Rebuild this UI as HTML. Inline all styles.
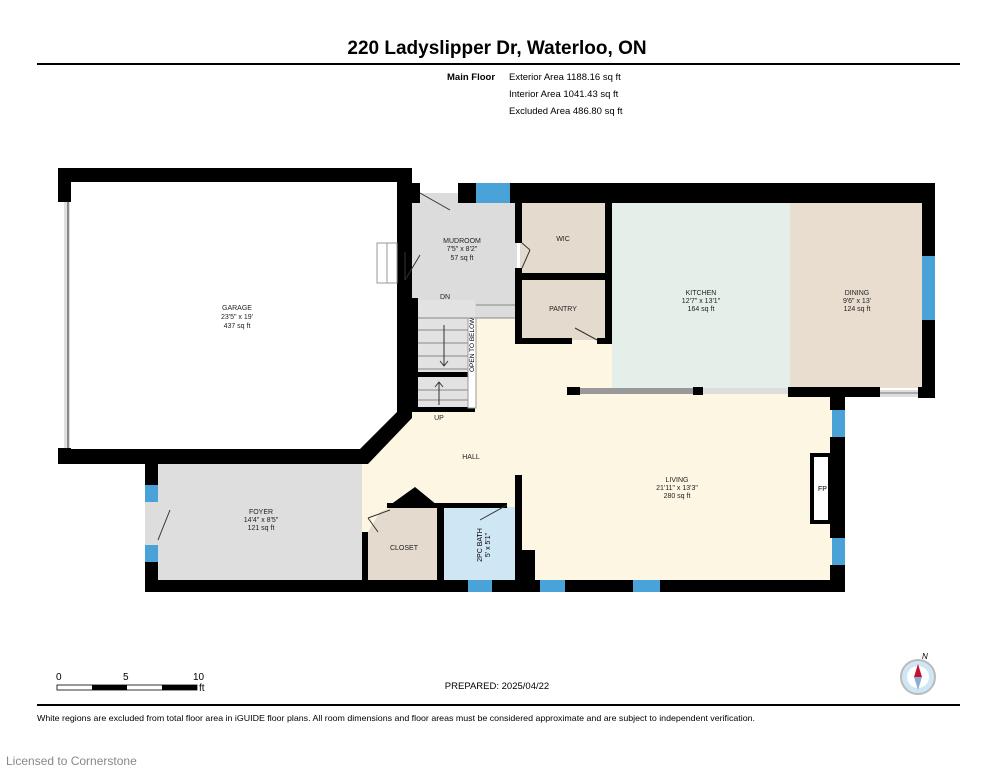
<!DOCTYPE html>
<html><head><meta charset="utf-8"><style>
html,body{margin:0;padding:0;background:#fff;width:995px;height:768px;overflow:hidden}
svg{display:block}
text{font-family:"Liberation Sans",Arial,sans-serif}
</style></head><body>
<svg width="995" height="768" viewBox="0 0 995 768" xmlns="http://www.w3.org/2000/svg">
<text x="497" y="54" text-anchor="middle" font-size="19" font-weight="bold">220 Ladyslipper Dr, Waterloo, ON</text>
<rect x="37" y="63" width="923" height="2" fill="#000"/>
<text x="447" y="80" font-size="9.5" font-weight="bold">Main Floor</text>
<text x="509" y="80" font-size="9.5">Exterior Area 1188.16 sq ft</text>
<text x="509" y="97" font-size="9.5">Interior Area 1041.43 sq ft</text>
<text x="509" y="114" font-size="9.5">Excluded Area 486.80 sq ft</text>

<rect x="412" y="193" width="105" height="125" fill="#dcdcdc"/>
<rect x="520" y="203" width="87" height="72" fill="#e4dacd"/>
<rect x="520" y="280" width="87" height="60" fill="#e4dacd"/>
<rect x="612" y="203" width="180" height="185" fill="#e3efe8"/>
<rect x="790" y="203" width="134" height="185" fill="#e8ddcf"/>
<polygon points="412,420 362,462 362,580 832,580 832,392 612,392 612,340 515,340 515,318 475,318 475,410 412,410" fill="#fdf6e3"/>
<rect x="412" y="300" width="63" height="108" fill="#e2e2e2"/>
<rect x="158" y="462" width="204" height="118" fill="#dedede"/>
<polygon points="368,532 380,512 398,505 437,505 437,580 368,580" fill="#e4dacd"/>
<rect x="444" y="507" width="71" height="73" fill="#cfe6f5"/>
<rect x="64" y="202" width="6" height="246" fill="#e0e0e0"/>
<line x1="68" y1="202" x2="68" y2="448" stroke="#333" stroke-width="1"/>

<g fill="#000">
<rect x="58" y="168" width="354" height="14"/>
<rect x="58" y="168" width="13" height="34"/>
<rect x="58" y="448" width="13" height="16"/>
<rect x="58" y="449" width="304" height="15"/>
<polygon points="360,449 397,412 397,168 412,168 412,418 368,464 360,464"/>
<rect x="400" y="183" width="20" height="20"/>
<rect x="458" y="183" width="18" height="20"/>
<rect x="510" y="183" width="425" height="20"/>
<rect x="922" y="183" width="13" height="73"/>
<rect x="922" y="320" width="13" height="78"/>
<rect x="515" y="203" width="7" height="40"/>
<rect x="515" y="268" width="7" height="76"/>
<rect x="515" y="273" width="97" height="7"/>
<rect x="605" y="203" width="7" height="141"/>
<rect x="515" y="338" width="57" height="6"/>
<rect x="597" y="338" width="15" height="6"/>
<rect x="567" y="387" width="13" height="8"/>
<rect x="693" y="387" width="10" height="8"/>
<rect x="788" y="387" width="92" height="10"/>
<rect x="918" y="387" width="17" height="11"/>
<rect x="830" y="395" width="15" height="15"/>
<rect x="830" y="437" width="15" height="101"/>
<rect x="830" y="565" width="15" height="27"/>
<rect x="145" y="580" width="323" height="12"/>
<rect x="492" y="580" width="48" height="12"/>
<rect x="565" y="580" width="68" height="12"/>
<rect x="660" y="580" width="185" height="12"/>
<rect x="145" y="462" width="13" height="23"/>
<rect x="145" y="562" width="13" height="30"/>
<rect x="362" y="532" width="6" height="48"/>
<polygon points="390,505 415,487 437,505"/>
<rect x="387" y="503" width="120" height="5"/>
<rect x="437" y="503" width="7" height="77"/>
<rect x="515" y="475" width="7" height="105"/>
<rect x="522" y="550" width="13" height="30"/>
<rect x="412" y="407" width="63" height="5"/>
<rect x="412" y="298" width="6" height="112"/>
<rect x="397" y="283" width="15" height="15"/>
</g>
<rect x="580" y="388" width="113" height="6" fill="#999"/>
<rect x="703" y="388" width="85" height="6" fill="#ddd"/>
<rect x="880" y="390" width="38" height="7" fill="#ddd"/>
<line x1="880" y1="393" x2="918" y2="393" stroke="#555" stroke-width="0.8"/>
<rect x="812" y="455" width="18" height="67" fill="#fff" stroke="#000" stroke-width="4"/>
<text x="818" y="491" font-size="7">FP</text>
<g fill="#4aa3d8">
<rect x="476" y="183" width="34" height="20"/>
<rect x="922" y="256" width="13" height="64"/>
<rect x="832" y="410" width="13" height="27"/>
<rect x="832" y="538" width="13" height="27"/>
<rect x="468" y="580" width="24" height="12"/>
<rect x="540" y="580" width="25" height="12"/>
<rect x="633" y="580" width="27" height="12"/>
<rect x="145" y="485" width="13" height="17"/>
<rect x="145" y="545" width="13" height="17"/>
</g>
<rect x="145" y="502" width="13" height="43" fill="#ddd"/>
<g stroke="#333" stroke-width="1" fill="none">
<line x1="420" y1="193" x2="450" y2="210"/>
<line x1="405" y1="252" x2="405" y2="280"/><line x1="405" y1="280" x2="420" y2="255"/>
<line x1="522" y1="243" x2="530" y2="250"/><line x1="530" y1="250" x2="522" y2="268"/>
<line x1="575" y1="328" x2="597" y2="340"/>
<line x1="158" y1="540" x2="170" y2="510"/>
<line x1="368" y1="518" x2="390" y2="510"/><line x1="368" y1="518" x2="378" y2="532"/>
<line x1="480" y1="520" x2="507" y2="505"/>
</g>
<rect x="377" y="243" width="20" height="40" fill="#fff" stroke="#999"/>
<line x1="387" y1="243" x2="387" y2="283" stroke="#999"/>
<g stroke="#888" stroke-width="1">
<line x1="418" y1="318" x2="468" y2="318"/><line x1="418" y1="330" x2="468" y2="330"/>
<line x1="418" y1="343" x2="468" y2="343"/><line x1="418" y1="356" x2="468" y2="356"/>
<line x1="418" y1="369" x2="468" y2="369"/><line x1="418" y1="390" x2="468" y2="390"/>
<line x1="418" y1="400" x2="468" y2="400"/>
<line x1="476" y1="305" x2="515" y2="305"/><line x1="476" y1="318" x2="515" y2="318"/>
</g>
<rect x="412" y="372" width="58" height="5" fill="#000"/>
<rect x="468" y="318" width="8" height="90" fill="#fff" stroke="#999"/>
<text transform="translate(474,372) rotate(-90)" font-size="6.5">OPEN TO BELOW</text>
<line x1="444" y1="325" x2="444" y2="366" stroke="#333"/>
<polyline points="440,361 444,366 448,361" fill="none" stroke="#333"/>
<line x1="439" y1="383" x2="439" y2="405" stroke="#333"/>
<polyline points="435,387 439,382 443,387" fill="none" stroke="#333"/>
<g font-size="7" text-anchor="middle" fill="#222">
<text x="237" y="310">GARAGE</text><text x="237" y="319">23'5" x 19'</text><text x="237" y="328">437 sq ft</text>
<text x="462" y="243">MUDROOM</text><text x="462" y="251">7'5" x 8'2"</text><text x="462" y="260">57 sq ft</text>
<text x="563" y="241">WIC</text><text x="563" y="311">PANTRY</text>
<text x="701" y="295">KITCHEN</text><text x="701" y="303">12'7" x 13'1"</text><text x="701" y="311">164 sq ft</text>
<text x="857" y="295">DINING</text><text x="857" y="303">9'6" x 13'</text><text x="857" y="311">124 sq ft</text>
<text x="445" y="299">DN</text><text x="439" y="420">UP</text><text x="471" y="459">HALL</text>
<text x="677" y="482">LIVING</text><text x="677" y="490">21'11" x 13'3"</text><text x="677" y="498">280 sq ft</text>
<text x="261" y="514">FOYER</text><text x="261" y="522">14'4" x 8'5"</text><text x="261" y="530">121 sq ft</text>
<text x="404" y="550">CLOSET</text>
</g>
<text transform="translate(482,545) rotate(-90)" font-size="7" text-anchor="middle">2PC BATH</text>
<text transform="translate(490,545) rotate(-90)" font-size="7" text-anchor="middle">5' x 5'1"</text>
<g font-size="10">
<text x="56" y="680">0</text><text x="123" y="680">5</text><text x="193" y="680">10</text><text x="199" y="691">ft</text>
</g>
<rect x="57" y="685" width="140" height="5" fill="#fff" stroke="#000" stroke-width="0.8"/>
<rect x="92" y="685" width="35" height="5" fill="#000"/>
<rect x="162" y="685" width="35" height="5" fill="#000"/>
<text x="497" y="689" font-size="9.5" text-anchor="middle">PREPARED: 2025/04/22</text>
<text x="922" y="659" font-size="8" font-style="italic">N</text>
<circle cx="918" cy="677" r="17" fill="#cfe7f5" stroke="#bbb" stroke-width="2"/>
<circle cx="918" cy="677" r="11" fill="#fff"/>
<polygon points="918,664 914,677 922,677" fill="#c8102e"/>
<polygon points="918,690 914,677 922,677" fill="#8aaed0"/>
<rect x="37" y="704" width="923" height="2" fill="#000"/>
<text x="37" y="721" font-size="8.5" textLength="718" lengthAdjust="spacingAndGlyphs">White regions are excluded from total floor area in iGUIDE floor plans. All room dimensions and floor areas must be considered approximate and are subject to independent verification.</text>
<text x="6" y="765" font-size="12" fill="#888">Licensed to Cornerstone</text>
</svg>
</body></html>
